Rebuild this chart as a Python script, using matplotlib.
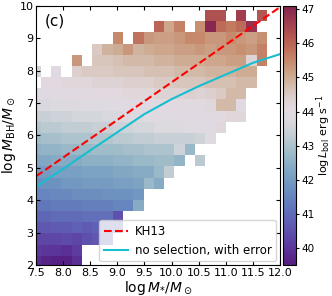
import numpy as np
import matplotlib
matplotlib.use("Agg")
import matplotlib.pyplot as plt
from matplotlib.colors import ListedColormap, Normalize

n = np.nan

# bin edges of the 2D histogram (log M*, log M_BH)
x_edges = np.linspace(7.393, 11.763, 24)
y_edges = np.linspace(1.939, 9.874, 24)

# mean log L_bol per cell, row j = M_BH bin (bottom -> top), col i = M* bin
lbol_rows = [
    [39.9, 39.7, 39.6, 39.6, 39.9, n, n, n, n, n, n, n, n, n, n, n, n, n, n, n, n, n, n],
    [40.1, 40.0, 40.0, 39.9, 40.1, n, n, n, n, n, n, n, n, n, n, n, n, n, n, n, n, n, n],
    [40.3, 40.3, 40.3, 40.4, 40.3, 40.5, 40.6, 40.6, n, n, n, n, n, n, n, n, n, n, n, n, n, n, n],
    [40.6, 40.6, 40.7, 40.7, 40.8, 40.7, 40.8, 40.9, 40.8, n, n, n, n, n, n, n, n, n, n, n, n, n, n],
    [40.9, 40.9, 41.0, 41.0, 41.0, 41.1, 41.1, 41.1, 40.5, n, n, n, n, n, n, n, n, n, n, n, n, n, n],
    [41.2, 41.2, 41.3, 41.3, 41.3, 41.4, 41.4, 41.4, 41.5, 41.5, 42.4, n, n, n, n, n, n, n, n, n, n, n, n],
    [41.5, 41.5, 41.6, 41.6, 41.7, 41.7, 41.7, 41.8, 41.8, 41.8, 41.9, n, n, n, n, n, n, n, n, n, n, n, n],
    [41.7, 41.8, 41.8, 41.9, 41.9, 42.0, 42.0, 42.0, 42.1, 42.1, 42.2, 42.7, 42.4, n, n, n, n, n, n, n, n, n, n],
    [42.0, 42.0, 42.1, 42.1, 42.1, 42.2, 42.2, 42.2, 42.3, 42.3, 42.4, 42.4, 42.7, 43.3, n, n, n, n, n, n, n, n, n],
    [42.3, 42.3, 42.4, 42.4, 42.4, 42.5, 42.5, 42.5, 42.6, 42.6, 42.7, 42.7, 42.8, 42.8, 42.6, n, 43.2, n, n, n, n, n, n],
    [42.5, 42.6, 42.6, 42.7, 42.7, 42.7, 42.8, 42.8, 42.8, 42.9, 42.9, 43.0, 43.0, 43.0, 43.5, 42.7, n, n, n, n, n, n, n],
    [42.8, 42.9, 42.9, 43.0, 43.0, 43.0, 43.1, 43.1, 43.2, 43.2, 43.3, 43.3, 43.4, 43.4, 43.4, 43.4, 43.5, 43.9, n, n, n, n, n],
    [43.1, 43.2, 43.2, 43.3, 43.3, 43.3, 43.4, 43.4, 43.5, 43.5, 43.6, 43.6, 43.8, 43.8, 43.8, 43.9, 43.9, 43.9, 44.2, n, n, n, n],
    [43.4, 43.4, 43.5, 43.5, 43.6, 43.6, 43.6, 43.7, 43.7, 43.8, 43.8, 43.9, 43.9, 43.9, 44.0, 44.0, 44.0, 44.0, 44.1, 44.2, 44.2, n, n],
    [43.7, 43.7, 43.8, 43.8, 43.8, 43.9, 43.9, 43.9, 44.0, 44.0, 44.0, 44.0, 44.1, 44.1, 44.1, 44.1, 44.1, 44.2, 44.8, 44.8, 44.0, n, n],
    [43.9, 44.0, 44.0, 44.0, 44.0, 44.1, 44.1, 44.1, 44.1, 44.2, 44.2, 44.2, 44.3, 44.3, 44.3, 44.4, 44.3, 44.4, 44.5, 44.8, 44.8, n, n],
    [n, 44.1, 44.1, 44.2, 44.2, 44.2, 44.3, 44.3, 44.3, 44.4, 44.4, 44.4, 44.5, 44.5, 44.6, 44.6, 44.6, 44.7, 44.7, 44.7, 44.8, 44.8, n],
    [43.6, n, 44.0, n, 44.4, 44.5, 44.5, 44.5, 44.6, 44.6, 44.6, 44.7, 44.7, 44.7, 44.8, 44.8, 44.8, 44.9, 44.9, 44.9, 45.0, 45.0, n],
    [n, n, n, n, 45.3, n, 44.6, 44.6, 44.7, 44.8, 44.8, 44.8, 44.9, 44.9, 45.0, 45.0, 45.0, 45.1, 45.1, 45.2, 45.2, 44.3, 45.6],
    [n, n, n, n, n, n, 44.5, 44.9, 45.0, 45.3, 44.9, 45.0, 45.1, 45.1, 45.2, 45.2, 45.3, 45.2, 45.3, 45.3, 45.4, 45.3, 45.6],
    [n, n, n, n, n, n, n, n, 45.5, n, 45.8, 45.3, 45.2, 45.2, 45.3, 45.5, 45.5, 45.3, 45.3, 45.5, 45.3, 45.2, 45.4],
    [n, n, n, n, n, n, n, n, n, n, n, n, 46.0, 45.1, 45.6, n, 45.4, 47.0, 45.9, 45.7, 45.9, 46.8, n],
    [n, n, n, n, n, n, n, n, n, n, n, n, n, n, n, n, n, 46.3, 46.3, n, 46.6, n, 46.2],
]
lbol = np.array(lbol_rows)

# KH13 relation as drawn
kh_x = np.array([7.5, 12.0])
kh_norm, kh_slope, kh_pivot = 8.80, 1.16, 11.0

# "no selection, with error" curve
sel_x = [7.5, 8.0, 8.5, 9.0, 9.5, 10.0, 10.5, 11.0, 11.5, 12.0]
sel_y = [4.42, 4.97, 5.54, 6.10, 6.66, 7.12, 7.52, 7.88, 8.24, 8.51]

# twilight_shifted, stretched so the white centre sits at 44
tw = plt.get_cmap("twilight_shifted")
lo = tw(np.linspace(0.10, 0.5, 180))
hi = tw(np.linspace(0.5, 0.85, 122))
cmap = ListedColormap(np.vstack([lo, hi[1:]]))
norm = Normalize(vmin=39.5, vmax=47.1)

fig = plt.figure(figsize=(3.32, 2.96), dpi=100)
ax = fig.add_axes([0.109, 0.105, 0.734, 0.875])
cax = fig.add_axes([0.851, 0.105, 0.040, 0.875])

mesh = ax.pcolormesh(x_edges, y_edges, np.ma.masked_invalid(lbol),
                     cmap=cmap, norm=norm, shading="flat")

ax.plot(kh_x, kh_norm + kh_slope * (kh_x - kh_pivot), "r--", lw=1.5, label="KH13")
ax.plot(sel_x, sel_y, color="tab:cyan", lw=1.5, label="no selection, with error")

ax.set_xlim(7.5, 12.0)
ax.set_ylim(2, 10)
ax.set_xticks(np.arange(7.5, 12.01, 0.5))
ax.set_yticks(np.arange(2, 10.1, 1))
ax.tick_params(direction="in", top=True, right=True, labelsize=8, length=3, pad=2)
ax.set_xlabel(r"$\log M_{*}/M_\odot$", fontsize=10, labelpad=1)
ax.set_ylabel(r"$\log M_{\rm BH}/M_\odot$", fontsize=10, labelpad=1)
ax.text(0.035, 0.94, "(c)", transform=ax.transAxes, fontsize=11, va="center")
ax.legend(loc="lower right", fontsize=8.5, handlelength=2.0, handletextpad=0.6,
          borderaxespad=0.3)

cb = fig.colorbar(mesh, cax=cax)
cb.set_ticks(np.arange(40, 48))
cb.ax.tick_params(labelsize=7.5, length=2.5, pad=1.5)
cb.set_label(r"$\log L_{\rm bol}$ erg s$^{-1}$", fontsize=8, labelpad=-0.5)

fig.savefig("out.png", dpi=100)
